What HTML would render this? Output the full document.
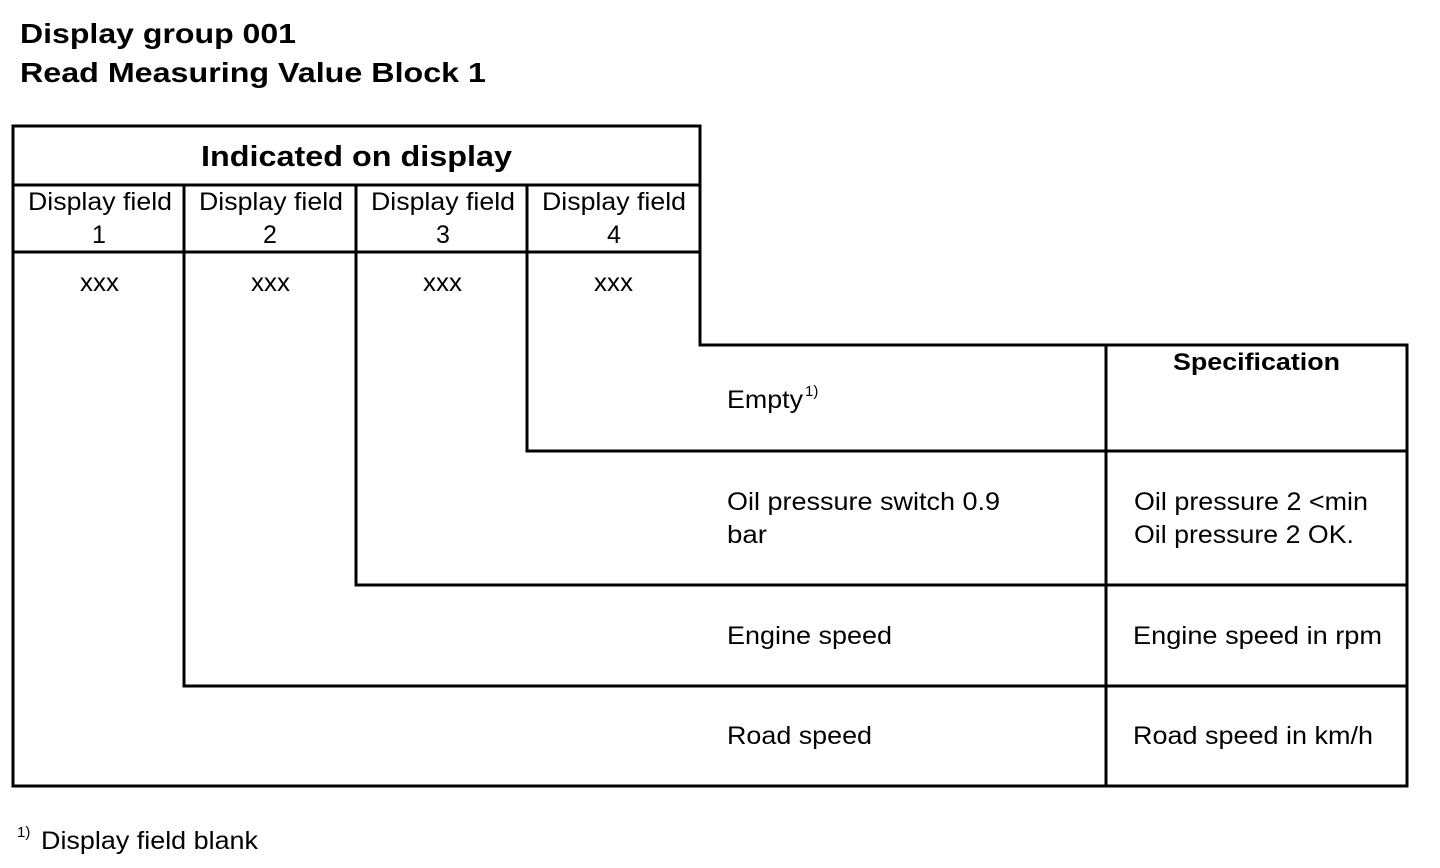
<!DOCTYPE html>
<html><head><meta charset="utf-8"><style>
html,body{margin:0;padding:0;background:#fff}
svg{display:block}
text{font-family:"Liberation Sans",Arial,sans-serif;fill:#000}
</style></head><body>
<svg width="1440" height="868" viewBox="0 0 1440 868" xmlns="http://www.w3.org/2000/svg">
<g stroke="#000" stroke-width="3" fill="none" stroke-linecap="square">
<path d="M13 126 H700 V345 H1407 V786 H13 Z"/>
<line x1="13" y1="185" x2="700" y2="185"/>
<line x1="13" y1="252" x2="700" y2="252"/>
<line x1="184" y1="185" x2="184" y2="686"/>
<line x1="356" y1="185" x2="356" y2="585"/>
<line x1="527" y1="185" x2="527" y2="451"/>
<line x1="527" y1="451" x2="1407" y2="451"/>
<line x1="356" y1="585" x2="1407" y2="585"/>
<line x1="184" y1="686" x2="1407" y2="686"/>
<line x1="1106" y1="345" x2="1106" y2="786"/>
</g>
<g font-weight="bold" lengthAdjust="spacingAndGlyphs">
<text x="20" y="43" font-size="28" textLength="276" lengthAdjust="spacingAndGlyphs">Display group 001</text>
<text x="20" y="82" font-size="28" textLength="466" lengthAdjust="spacingAndGlyphs">Read Measuring Value Block 1</text>
<text x="201" y="166" font-size="29" textLength="311" lengthAdjust="spacingAndGlyphs">Indicated on display</text>
<text x="1173" y="370" font-size="24" textLength="167" lengthAdjust="spacingAndGlyphs">Specification</text>
</g>
<g font-size="25">
<text x="28" y="210" textLength="144" lengthAdjust="spacingAndGlyphs">Display field</text>
<text x="199" y="210" textLength="144" lengthAdjust="spacingAndGlyphs">Display field</text>
<text x="371" y="210" textLength="144" lengthAdjust="spacingAndGlyphs">Display field</text>
<text x="542" y="210" textLength="144" lengthAdjust="spacingAndGlyphs">Display field</text>
<g text-anchor="middle">
<text x="99" y="243">1</text><text x="270" y="243">2</text>
<text x="443" y="243">3</text><text x="614" y="243">4</text>
</g>
<text x="80" y="291" textLength="39" lengthAdjust="spacingAndGlyphs">xxx</text>
<text x="251" y="291" textLength="39" lengthAdjust="spacingAndGlyphs">xxx</text>
<text x="423" y="291" textLength="39" lengthAdjust="spacingAndGlyphs">xxx</text>
<text x="594" y="291" textLength="39" lengthAdjust="spacingAndGlyphs">xxx</text>
<text x="727" y="408" textLength="76" lengthAdjust="spacingAndGlyphs">Empty</text>
<text x="805" y="396" font-size="15">1)</text>
<text x="727" y="510" textLength="273" lengthAdjust="spacingAndGlyphs">Oil pressure switch 0.9</text>
<text x="727" y="543" textLength="40" lengthAdjust="spacingAndGlyphs">bar</text>
<text x="1134" y="510" textLength="234" lengthAdjust="spacingAndGlyphs">Oil pressure 2 &lt;min</text>
<text x="1134" y="543" textLength="220" lengthAdjust="spacingAndGlyphs">Oil pressure 2 OK.</text>
<text x="727" y="644" textLength="165" lengthAdjust="spacingAndGlyphs">Engine speed</text>
<text x="1133" y="644" textLength="249" lengthAdjust="spacingAndGlyphs">Engine speed in rpm</text>
<text x="727" y="744" textLength="145" lengthAdjust="spacingAndGlyphs">Road speed</text>
<text x="1133" y="744" textLength="240" lengthAdjust="spacingAndGlyphs">Road speed in km/h</text>
<text x="17" y="837" font-size="15">1)</text>
<text x="41" y="849" textLength="217" lengthAdjust="spacingAndGlyphs">Display field blank</text>
</g>
</svg>
</body></html>
